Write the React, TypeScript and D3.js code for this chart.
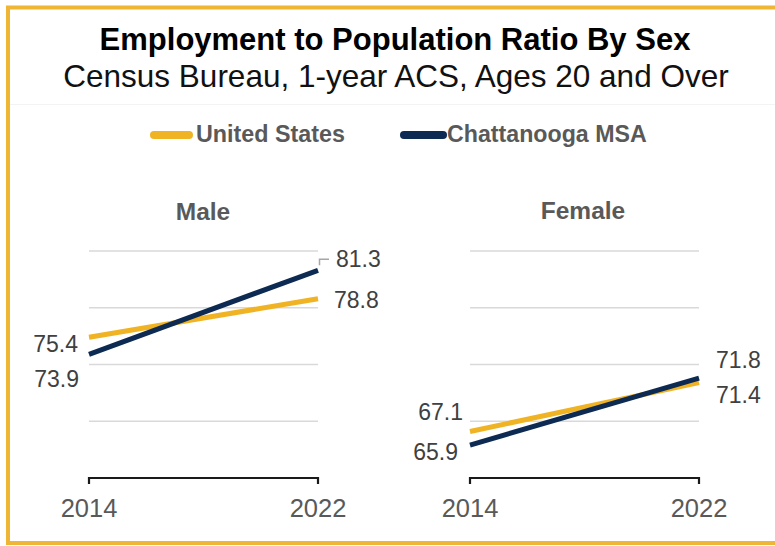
import React from "react";
import * as d3 from "d3";

const years = ["2014", "2022"];
const panelTitles = ["Male", "Female"];
const usMale = [75.4, 78.8];
const chattMale = [73.9, 81.3];
const usFemale = [67.1, 71.4];
const chattFemale = [65.9, 71.8];
const yTicks = [63, 68, 73, 78, 83];
const seriesNames = ["United States", "Chattanooga MSA"];

const GOLD = "#F0B323";
const NAVY = "#0C2A52";
const FONT = "'Liberation Sans', Arial, sans-serif";

const W = 775;
const H = 546;

const y = d3.scaleLinear().domain([63, 83]).range([478, 251]);

const panels = [
  {
    title: panelTitles[0],
    us: usMale,
    ch: chattMale,
    x: d3.scalePoint<string>().domain(years).range([89, 318]),
    titleX: 203,
    titleY: 220,
    labels: [
      { s: "us", i: 0, dx: -11, dy: 15, anchor: "end" },
      { s: "ch", i: 0, dx: -10, dy: 33, anchor: "end" },
      { s: "us", i: 1, dx: 16, dy: 9.6, anchor: "start" },
      { s: "ch", i: 1, dx: 18, dy: -3.3, anchor: "start" },
    ],
    leader: true,
  },
  {
    title: panelTitles[1],
    us: usFemale,
    ch: chattFemale,
    x: d3.scalePoint<string>().domain(years).range([470, 699]),
    titleX: 583,
    titleY: 219,
    labels: [
      { s: "us", i: 0, dx: -7, dy: -11.5, anchor: "end" },
      { s: "ch", i: 0, dx: -12, dy: 15, anchor: "end" },
      { s: "ch", i: 1, dx: 17, dy: -10, anchor: "start" },
      { s: "us", i: 1, dx: 17, dy: 20.5, anchor: "start" },
    ],
    leader: false,
  },
];

export default function App() {
  return (
    <div style={{ position: "fixed", left: 0, top: 0, width: W, height: H, background: "#fff" }}>
      <svg width={W} height={H} style={{ display: "block" }}>
        <rect x={0} y={0} width={W} height={H} fill="#fff" />
        <rect x={8} y={7.5} width={W + 20} height={535.5} fill="none" stroke="#EFB534" strokeWidth={4} />
        <line x1={10} x2={W} y1={104.5} y2={104.5} stroke="#f3f3f3" strokeWidth={1} />
        <text x={395} y={50} textAnchor="middle" fontFamily={FONT} fontWeight="bold" fontSize={31} fill="#000">
          Employment to Population Ratio By Sex
        </text>
        <text x={396} y={87} textAnchor="middle" fontFamily={FONT} fontSize={31.5} fill="#111">
          Census Bureau, 1-year ACS, Ages 20 and Over
        </text>

        {/* legend */}
        <line x1={154} x2={189} y1={135} y2={135} stroke={GOLD} strokeWidth={8} strokeLinecap="round" />
        <text x={196} y={142} fontFamily={FONT} fontWeight="bold" fontSize={23.3} fill="#595959">
          {seriesNames[0]}
        </text>
        <line x1={404} x2={443} y1={135} y2={135} stroke={NAVY} strokeWidth={8} strokeLinecap="round" />
        <text x={447} y={142} fontFamily={FONT} fontWeight="bold" fontSize={23.2} fill="#595959">
          {seriesNames[1]}
        </text>

        {panels.map((p, pi) => {
          const [x0, x1] = p.x.range();
          const line = d3
            .line<number>()
            .x((_, i) => p.x(years[i]) as number)
            .y((d) => y(d));
          const data: Record<string, number[]> = { us: p.us, ch: p.ch };
          return (
            <g key={pi}>
              <text x={p.titleX} y={p.titleY} textAnchor="middle" fontFamily={FONT} fontWeight="bold" fontSize={24.5} fill="#595959">
                {p.title}
              </text>
              {yTicks.slice(1).map((t) => (
                <line key={t} x1={x0} x2={x1} y1={y(t)} y2={y(t)} stroke="#d9d9d9" strokeWidth={1.5} />
              ))}
              <path
                d={`M${x0},${y(63) + 6}V${y(63)}H${x1}V${y(63) + 6}`}
                fill="none"
                stroke="#1a1a1a"
                strokeWidth={2.2}
              />
              {years.map((yr) => (
                <text key={yr} x={p.x(yr)} y={517} textAnchor="middle" fontFamily={FONT} fontSize={25.5} fill="#595959">
                  {yr}
                </text>
              ))}
              <path d={line(p.us) || ""} fill="none" stroke={GOLD} strokeWidth={5} />
              <path d={line(p.ch) || ""} fill="none" stroke={NAVY} strokeWidth={5} />
              {p.leader && (
                <polyline
                  points={`${x1 + 1.5},${y(p.ch[1]) - 5} ${x1 + 1.5},${y(p.ch[1]) - 11} ${x1 + 11},${y(p.ch[1]) - 11}`}
                  fill="none"
                  stroke="#a6a6a6"
                  strokeWidth={1.5}
                />
              )}
              {p.labels.map((l, li) => {
                const v = data[l.s][l.i];
                return (
                  <text
                    key={li}
                    x={(p.x(years[l.i]) as number) + l.dx}
                    y={y(v) + l.dy}
                    textAnchor={l.anchor as any}
                    fontFamily={FONT}
                    fontSize={23}
                    fill="#404040"
                  >
                    {v.toFixed(1)}
                  </text>
                );
              })}
            </g>
          );
        })}
      </svg>
    </div>
  );
}
